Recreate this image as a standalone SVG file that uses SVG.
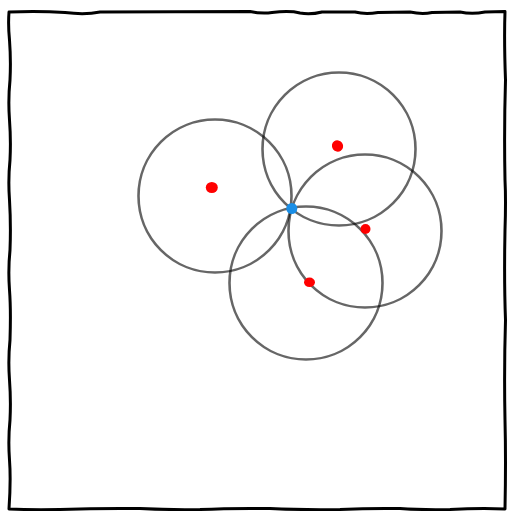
<svg xmlns="http://www.w3.org/2000/svg" width="508" height="511" viewBox="0 0 508 511">
<style>
.frame{fill:none;stroke:#000;stroke-width:3;stroke-linejoin:round;stroke-linecap:round}
.circ{fill:none;stroke:#000;stroke-opacity:0.6;stroke-width:2.6}
.pt{fill:#ff0000}
</style>
<rect width="508" height="511" fill="#fff"/>
<g id="frame">
<path class="frame" d="M9,12 Q40,11 65,12.5 Q85,15 100,12 L250,11.5 Q262,14 272,12.5 Q290,10.5 300,13 Q310,15 322,12 L355,12 Q365,14.5 378,12.5 L410,12 Q422,14.5 432,12.5 L460,12 Q472,14.5 485,12 L505,11.5 Q504,40 505.5,80 Q504,130 505,180 Q506,200 505,230 Q504,280 505.5,320 Q504,370 505,420 Q506,460 505,509 Q480,508 450,509.5 Q420,510 400,508.5 Q370,508 340,509.5 Q300,510 270,508.5 Q230,508 200,509.5 Q170,510 140,508.5 Q100,508 60,509.5 Q30,510 9,509 Q11,480 9.5,460 Q8,440 10,420 Q11,400 9.5,380 Q8,360 10,340 Q11,310 9.5,290 Q8,270 10,250 Q11,225 9.5,200 Q8,180 10,160 Q11,140 9.5,120 Q8,100 10,80 Q11,60 9.5,40 Q8,25 9,12 Z"/>
</g>
<g id="circles">
<circle id="c1" class="circ" cx="215" cy="196" r="76.5"/>
<circle id="c2" class="circ" cx="339" cy="149" r="76.5"/>
<circle id="c3" class="circ" cx="365" cy="231" r="76.5"/>
<circle id="c4" class="circ" cx="306" cy="283" r="76.5"/>
</g>
<g id="points">
<ellipse class="pt" cx="211.8" cy="187.5" rx="6" ry="5.5"/>
<ellipse class="pt" cx="337.5" cy="146" rx="5.5" ry="5.8" transform="rotate(-35 337.5 146)"/>
<circle class="pt" cx="365.5" cy="229" r="5"/>
<ellipse class="pt" cx="309.5" cy="282.3" rx="5.5" ry="4.8"/>
</g>
<g id="center">
<circle cx="291.8" cy="208.5" r="5.5" fill="#1a8ee6"/>
</g>
</svg>
